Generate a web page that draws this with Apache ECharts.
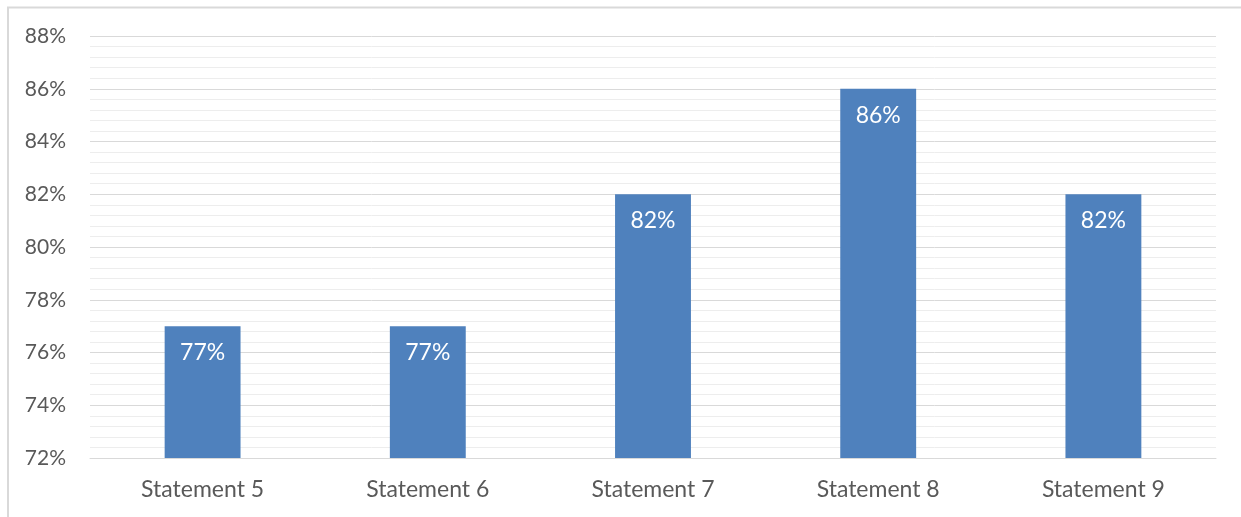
<!DOCTYPE html>
<html>
<head>
<meta charset="utf-8">
<script src="https://cdn.jsdelivr.net/npm/echarts@6/dist/echarts.min.js"></script>
<style>
html,body{margin:0;padding:0;background:#fff;}
#c{width:1241px;height:517px;}
</style>
</head>
<body>
<div id="c"></div>
<script>
const categories = ['Statement 5','Statement 6','Statement 7','Statement 8','Statement 9'];
const values = [77, 77, 82, 86, 82];
const yTicks = [72, 74, 76, 78, 80, 82, 84, 86, 88];

const font = "Lato, 'Open Sans', sans-serif";
const chart = echarts.init(document.getElementById('c'));
chart.setOption({
  animation: false,
  backgroundColor: '#fff',
  graphic: [
    {type:'line', shape:{x1:7, y1:7.5, x2:1241, y2:7.5}, style:{stroke:'#d9d9d9', lineWidth:2}},
    {type:'line', shape:{x1:8, y1:7, x2:8, y2:517}, style:{stroke:'#d9d9d9', lineWidth:2}}
  ],
  grid: {left: 90, right: 25, top: 36, bottom: 59, containLabel: false},
  xAxis: {
    type: 'category',
    data: categories,
    axisLine: {lineStyle: {color: '#d9d9d9', width: 1}},
    axisTick: {show: false},
    axisLabel: {color: '#595959', fontSize: 23, fontFamily: font, margin: 20}
  },
  yAxis: {
    type: 'value',
    min: yTicks[0],
    max: yTicks[yTicks.length - 1],
    interval: 2,
    axisLine: {show: false},
    axisTick: {show: false},
    axisLabel: {color: '#595959', fontSize: 21, fontFamily: font, margin: 24, formatter: '{value}%'},
    splitLine: {lineStyle: {color: '#d9d9d9', width: 1}},
    minorTick: {show: false, splitNumber: 5},
    minorSplitLine: {show: true, lineStyle: {color: '#ededed', width: 1}}
  },
  series: [{
    type: 'bar',
    data: values,
    barWidth: '33.7%',
    itemStyle: {color: '#4f81bd'},
    label: {
      show: true,
      position: 'insideTop',
      distance: 15,
      color: '#ffffff',
      fontSize: 23,
      fontFamily: font,
      formatter: '{c}%'
    }
  }]
});
</script>
</body>
</html>
